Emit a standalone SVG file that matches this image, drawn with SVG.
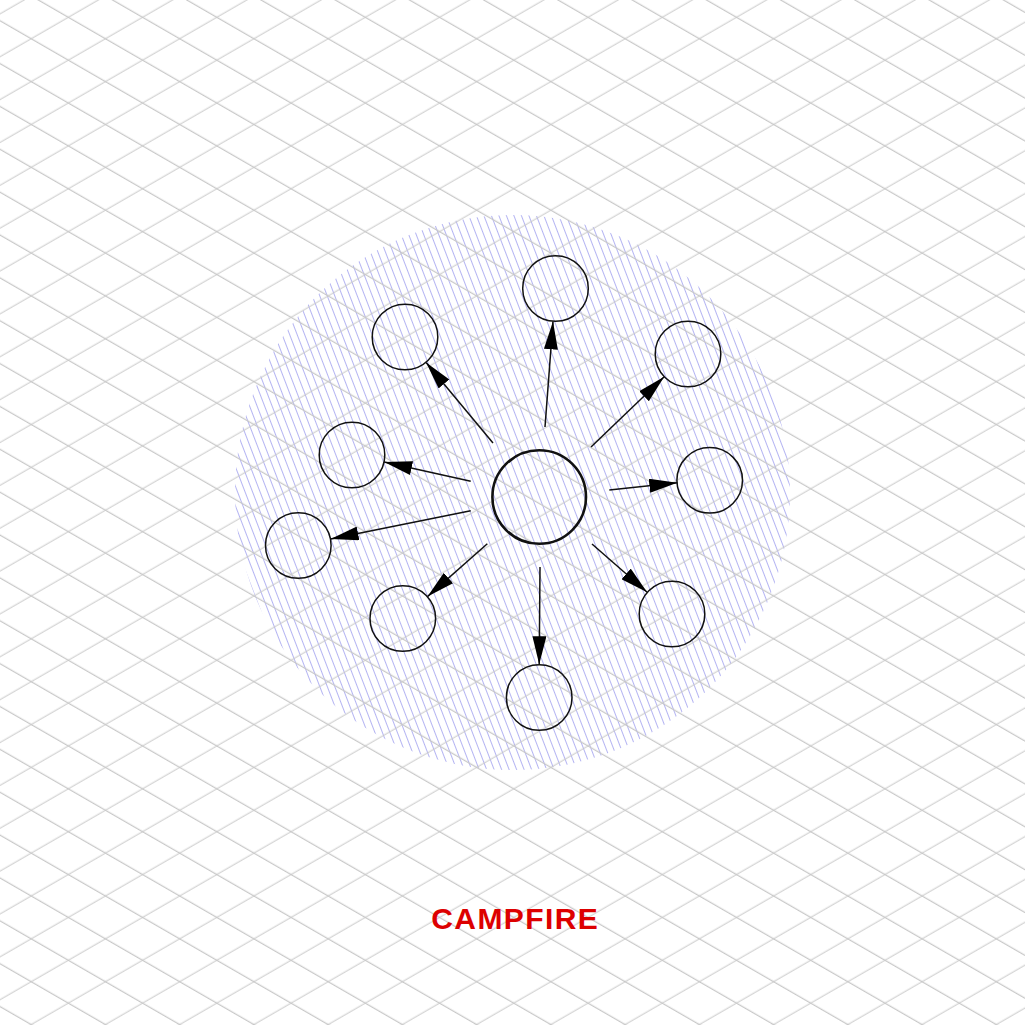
<svg xmlns="http://www.w3.org/2000/svg" width="1025" height="1025" viewBox="0 0 1025 1025">
  <defs>
    <pattern id="gridA" patternUnits="userSpaceOnUse" width="200" height="37.12" patternTransform="rotate(30)">
      <line x1="-5" y1="17.95" x2="205" y2="17.95" stroke="#c8c8c8" stroke-width="1.1"/>
    </pattern>
    <pattern id="gridB" patternUnits="userSpaceOnUse" width="200" height="37.12" patternTransform="rotate(-30)">
      <line x1="-5" y1="12.01" x2="205" y2="12.01" stroke="#c8c8c8" stroke-width="1.1"/>
    </pattern>
    <pattern id="hatch" patternUnits="userSpaceOnUse" width="7" height="10" patternTransform="rotate(-21)">
      <line x1="3.5" y1="-1" x2="3.5" y2="11" stroke="#b4b4f2" stroke-width="1"/>
    </pattern>
    <marker id="arrow" markerUnits="userSpaceOnUse" markerWidth="28" markerHeight="14" refX="28" refY="7" orient="auto" viewBox="0 0 28 14">
      <path d="M0,0 L28,7 L0,14 Z" fill="#000"/>
    </marker>
    <style>
      .node { fill: none; stroke: #111; stroke-width: 1.5; }
      .hub { fill: none; stroke: #111; stroke-width: 2.6; }
      .edge { stroke: #111; stroke-width: 1.5; fill: none; marker-end: url(#arrow); }
      .title { font-family: "Liberation Sans", Arial, sans-serif; font-weight: bold; font-size: 30px; fill: #dd0000; letter-spacing: 1.4px; }
    </style>
  </defs>

  <rect width="1025" height="1025" fill="#ffffff"/>
  <circle cx="512.5" cy="492.5" r="277.5" fill="url(#hatch)"/>
  <rect width="1025" height="1025" fill="url(#gridA)"/>
  <rect width="1025" height="1025" fill="url(#gridB)"/>

  <g id="connectors">
    <line class="edge" x1="545" y1="427" x2="553" y2="321.4"/>
    <line class="edge" x1="493" y1="443" x2="426.1" y2="362.4"/>
    <line class="edge" x1="591" y1="447" x2="664.2" y2="376.8"/>
    <line class="edge" x1="470.7" y1="481.3" x2="384.2" y2="462.1"/>
    <line class="edge" x1="609.3" y1="490" x2="677.3" y2="482.7"/>
    <line class="edge" x1="470.7" y1="510.7" x2="330.6" y2="539"/>
    <line class="edge" x1="487.3" y1="543.7" x2="427.5" y2="596.6"/>
    <line class="edge" x1="592" y1="544" x2="647.2" y2="592.3"/>
    <line class="edge" x1="540" y1="567" x2="539.2" y2="664.3"/>
  </g>

  <g id="hub"><circle class="hub" cx="539.2" cy="497" r="46.8"/></g>
  <g id="node-top"><circle class="node" cx="555.5" cy="288.5" r="32.8"/></g>
  <g id="node-upper-left"><circle class="node" cx="405" cy="337" r="32.8"/></g>
  <g id="node-upper-right"><circle class="node" cx="688" cy="354" r="32.8"/></g>
  <g id="node-left"><circle class="node" cx="352" cy="455" r="32.8"/></g>
  <g id="node-right"><circle class="node" cx="709.7" cy="480.3" r="32.8"/></g>
  <g id="node-far-left"><circle class="node" cx="298.3" cy="545.5" r="32.8"/></g>
  <g id="node-lower-left"><circle class="node" cx="402.8" cy="618.5" r="32.8"/></g>
  <g id="node-lower-right"><circle class="node" cx="672" cy="614" r="32.8"/></g>
  <g id="node-bottom"><circle class="node" cx="539.2" cy="697.5" r="32.8"/></g>

  <text class="title" x="515.2" y="928.5" text-anchor="middle">CAMPFIRE</text>
</svg>
